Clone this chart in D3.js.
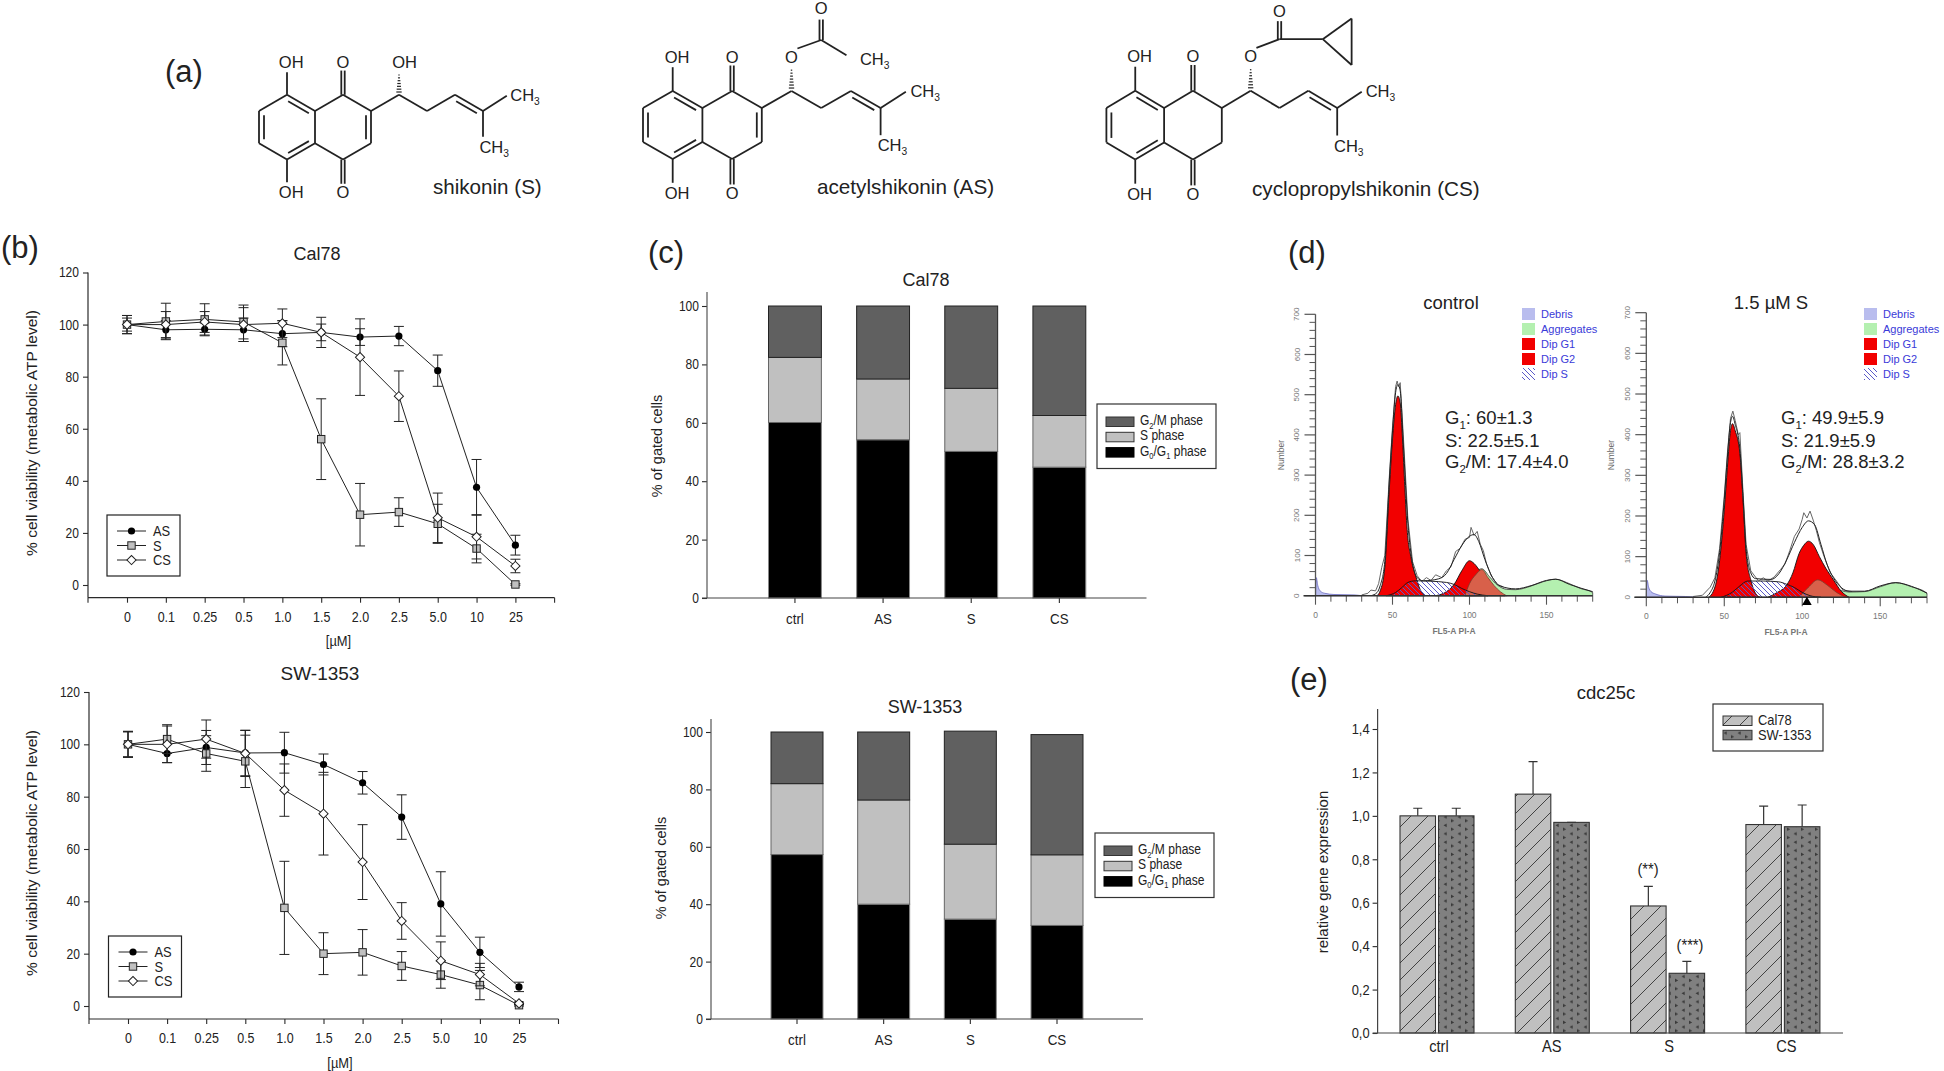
<!DOCTYPE html>
<html>
<head>
<meta charset="utf-8">
<script src="https://cdn.jsdelivr.net/npm/d3@7"></script>
<style>
body { margin: 0; background: #fff; }
text { font-family: "Liberation Sans", Arial, sans-serif; fill: #222; }
</style>
</head>
<body>
<div id="fig"></div>
<script>
// panel b
const doses = ["0", "0.1", "0.25", "0.5", "1.0", "1.5", "2.0", "2.5", "5.0", "10", "25"];
const calAS = [100, 98, 98.2, 98, 96.5, 97, 95.2, 95.6, 82.3, 37.5, 15.3];
const calASerr = [3.5, 3.5, 2.5, 4.5, 5, 3.2, 3.2, 3.7, 6, 10.7, 3.8];
const calS = [100, 101.2, 102, 101, 93, 56, 27, 28, 23.5, 14, 0.2];
const calSerr = [2.5, 7, 6, 6.5, 8.5, 15.5, 12, 5.5, 7.5, 5.5, 0.3];
const calCS = [100, 100, 101, 100, 100.5, 97, 87.5, 72.5, 25.8, 18.5, 7.3];
const calCSerr = [3.5, 5, 4, 6.5, 5.5, 5.8, 14.7, 9.7, 9.5, 8.5, 2.6];
const swAS = [100, 96.5, 98.8, 96.7, 96.8, 92.3, 85.3, 72.2, 39, 20.5, 7.3];
const swASerr = [4.8, 3.5, 6.5, 8.7, 7.8, 4, 4.3, 8.5, 12.3, 5.8, 1.8];
const swS = [100, 102, 96.5, 93.5, 37.5, 20, 20.5, 15.3, 12, 8, 0.3];
const swSerr = [4.8, 5.5, 6.8, 10, 17.8, 8, 8.7, 5.5, 5.2, 5.6, 0.3];
const swCS = [100, 100, 102, 96.5, 82.5, 73.5, 55, 32.5, 17.3, 12, 1];
const swCSerr = [5, 7, 7.3, 8.8, 10, 15.8, 14.3, 7, 7.2, 4.3, 0.5];
const viabTicks = [0, 20, 40, 60, 80, 100, 120];

// panel c
const treatments = ["ctrl", "AS", "S", "CS"];
const pctTicks = [0, 20, 40, 60, 80, 100];
const calG0 = [60.1, 54.2, 50.2, 44.8];
const calSph = [22.3, 20.8, 21.6, 17.7];
const calG2 = [17.6, 25, 28.2, 37.5];
const swG0 = [57.3, 40, 34.8, 32.6];
const swSph = [24.7, 36.3, 26.1, 24.6];
const swG2 = [18, 23.7, 39.4, 41.9];

// panel d, [channel, count]
const ctlDebris = [[0, 0], [0.5, 45], [1.5, 25], [3, 12], [6, 6], [12, 3], [25, 2], [30, 0]];
const ctlAggr = [[97, 0], [100, 30], [108, 67], [113, 47], [118, 27], [124, 16], [130, 15], [140, 24], [148, 35], [156, 41], [163, 33], [172, 18], [180, 8], [180, 0]];
const ctlG1 = [[40, 0], [42, 12], [45, 70], [48, 270], [50, 390], [52, 475], [53.5, 497], [55, 480], [56.5, 390], [58, 270], [59.5, 165], [62, 95], [65, 50], [68, 15], [71, 0]];
const ctlG2 = [[78, 0], [85, 10], [90, 28], [95, 62], [100, 87], [103, 80], [107, 60], [112, 30], [118, 8], [123, 0]];
const ctlOver = [[97, 0], [100, 30], [104, 52], [108, 65], [112, 45], [116, 25], [120, 10], [124, 0]];
const ctlSph = [[46, 0], [52, 8], [56, 20], [60, 33], [65, 37], [75, 36], [85, 33], [90, 28], [95, 18], [100, 10], [105, 4], [112, 0]];
const ctlFit = [[36, 0], [40, 8], [42, 25], [45, 85], [48, 290], [50, 410], [52, 505], [53.5, 525], [55, 510], [57, 380], [60, 180], [63, 80], [66, 45], [70, 37], [80, 42], [85, 55], [90, 90], [95, 125], [100, 148], [103, 152], [106, 135], [110, 90], [115, 45], [120, 24], [130, 17], [140, 25], [150, 38], [156, 41], [165, 28], [180, 10]];
const ctlRaw = [[30, 2], [34, 6], [36, 14], [39, 12], [41, 30], [43, 70], [45, 100], [48, 300], [50, 420], [52, 520], [53, 534], [54, 520], [55, 530], [57, 400], [60, 190], [63, 85], [66, 50], [69, 35], [72, 45], [75, 38], [78, 52], [82, 45], [85, 62], [88, 72], [91, 110], [94, 118], [97, 140], [100, 145], [101, 170], [103, 150], [105, 160], [107, 128], [109, 112], [111, 80], [114, 50], [118, 28], [122, 22]];
const dosDebris = [[0, 0], [0.5, 42], [1.5, 25], [3, 14], [6, 8], [12, 3], [25, 2], [32, 0]];
const dosAggr = [[100, 0], [110, 20], [120, 20], [130, 13], [140, 14], [150, 26], [160, 36], [170, 26], [180, 10], [180, 0]];
const dosG1 = [[40, 0], [43, 15], [45, 40], [47, 90], [50, 215], [52, 320], [54, 410], [55.3, 427], [57, 410], [60, 354], [62, 240], [64, 108], [67, 43], [70, 10], [73, 0]];
const dosG2 = [[78, 0], [84, 12], [90, 30], [94, 60], [98, 108], [101, 128], [104, 138], [107, 130], [111, 100], [115, 72], [120, 43], [125, 15], [130, 0]];
const dosOver = [[98, 0], [104, 25], [110, 43], [116, 30], [122, 12], [128, 0]];
const dosSph = [[48, 0], [55, 12], [60, 28], [65, 40], [75, 40], [85, 38], [90, 32], [95, 24], [100, 12], [105, 4], [112, 0]];
const dosFit = [[38, 0], [41, 12], [44, 40], [47, 110], [50, 240], [52, 345], [54, 430], [55.3, 445], [57, 425], [60, 365], [62, 250], [64, 120], [67, 60], [70, 46], [80, 44], [85, 58], [90, 92], [95, 135], [100, 172], [104, 188], [108, 178], [112, 130], [116, 80], [120, 48], [125, 24], [130, 15], [140, 15], [150, 28], [160, 36], [170, 27], [180, 10]];
const dosRaw = [[30, 2], [36, 5], [41, 25], [44, 48], [47, 120], [50, 250], [52, 355], [54, 440], [55.5, 458], [57, 435], [59, 400], [60, 405], [62, 260], [64, 130], [67, 65], [70, 50], [72, 40], [75, 48], [78, 40], [82, 50], [86, 68], [89, 82], [92, 115], [95, 150], [98, 168], [100, 192], [101, 208], [103, 195], [105, 212], [107, 190], [109, 165], [111, 135], [114, 100], [118, 60], [122, 40], [126, 18], [132, 14]];
const phaseLegend = ["Debris", "Aggregates", "Dip G1", "Dip G2", "Dip S"];
const countTicks = [0, 100, 200, 300, 400, 500, 600, 700];
const countMinor = [20, 40, 60, 80, 120, 140, 160, 180, 220, 240, 260, 280, 320, 340, 360, 380, 420, 440, 460, 480, 520, 540, 560, 580, 620, 640, 660, 680];
const channelTicks = [0, 50, 100, 150];
const channelMinor = [10, 20, 30, 40, 60, 70, 80, 90, 110, 120, 130, 140, 160, 170, 180];

// panel e
const geneTicks = [0, 0.2, 0.4, 0.6, 0.8, 1, 1.2, 1.4];
const geneCal = [1, 1.1, 0.585, 0.96];
const geneCalTop = [1.035, 1.25, 0.675, 1.045];
const geneSw = [1, 0.97, 0.275, 0.95];
const geneSwTop = [1.035, 0.97, 0.33, 1.05];

// panel a, bonds on a hexagon lattice [i1, j1, i2, j2, kind, ci, cj]
// kind: 1 single, 2 inner double (towards ci,cj), 3 C=O, 4 hashed
const ringBonds = [[0, 0, 1, -1, 1], [1, -1, 2, 0, 2, 1, 1], [2, 0, 2, 2, 1], [2, 2, 1, 3, 2, 1, 1], [1, 3, 0, 2, 1], [0, 2, 0, 0, 2, 1, 1],
  [2, 0, 3, -1, 1], [3, -1, 4, 0, 1], [4, 2, 3, 3, 1], [3, 3, 2, 2, 1],
  [1, -1, 1, -2.4, 1], [1, 3, 1, 4.4, 1], [3, -1, 3, -2.5, 3], [3, 3, 3, 4.5, 3]];
const chainBonds = [[4, 0, 5, -1, 1], [5, -1, 6, 0, 1], [6, 0, 7, -1, 1], [7, -1, 8, 0, 2, 7, 1], [8, 0, 8.85, -0.95, 1], [8, 0, 8, 1.6, 1]];
const quinoneBond = [[4, 0, 4, 2, 2, 3, 1]];
const satBond = [[4, 0, 4, 2, 1]];
const shikoninBonds = [[5, -1, 5, -2.4, 4]];
const acetylBonds = [[5, -1, 5, -2.4, 4], [5.2, -3.5, 6, -4, 1], [6, -4, 6, -5.2, 3], [6, -4, 6.85, -3.1, 1]];
const cycloBonds = [[5, -1, 5, -2.4, 4], [5.2, -3.5, 6, -4, 1], [6, -4, 6, -5.05, 3], [6, -4, 7.5, -4, 1], [7.5, -4, 8.5, -5.2, 1], [8.5, -5.2, 8.5, -2.5, 1], [8.5, -2.5, 7.5, -4, 1]];
const ringLabels = [[1.15, -3, "OH"], [3, -3, "O"], [1.15, 5, "OH"], [3, 5, "O"], [9.5, -1, "CH|3"], [8.4, 2.2, "CH|3"]];

const width = 1944, height = 1071;
const svg = d3.select("#fig").append("svg").attr("width", width).attr("height", height);
const defs = svg.append("defs");
const ink = "#2a2a2a";

// patterns
const hatch = defs.append("pattern").attr("id", "hatch").attr("patternUnits", "userSpaceOnUse").attr("width", 17).attr("height", 17);
hatch.append("rect").attr("width", 17).attr("height", 17).attr("fill", "#c0c0c0");
hatch.append("path").attr("d", "M-1,18 L18,-1 M-9,9 L9,-9 M8,26 L26,8").attr("stroke", "#333").attr("stroke-width", 0.9);
const dots = defs.append("pattern").attr("id", "dots").attr("patternUnits", "userSpaceOnUse").attr("width", 14).attr("height", 8.4);
dots.append("rect").attr("width", 14).attr("height", 8.4).attr("fill", "#808080");
dots.append("path").attr("d", "M1.5,2.2 l3.2,-1.8 v3.6z M9,4.2 l3.2,1.8 l-3.2,1.8z").attr("fill", "#3a3a3a");
const shatch = defs.append("pattern").attr("id", "shatch").attr("patternUnits", "userSpaceOnUse").attr("width", 5).attr("height", 5);
shatch.append("path").attr("d", "M-1,-1 L6,6 M-1,4 L1,6 M4,-1 L6,1").attr("stroke", "#5a5ac8").attr("stroke-width", 1);

function addText(x, y, str, size, opts) {
  opts = opts || {};
  const t = svg.append("text").attr("x", x).attr("y", y).attr("font-size", size)
    .attr("text-anchor", opts.anchor || "start").attr("class", opts.cls || null);
  if (opts.fill) t.style("fill", opts.fill);
  if (opts.weight) t.attr("font-weight", opts.weight);
  if (opts.rotate) t.attr("transform", "rotate(-90," + x + "," + y + ")");
  // odd parts are subscripts
  str.split("|").forEach(function(part, i) {
    const s = t.append("tspan").text(part);
    if (i % 2 == 1) {
      s.attr("font-size", size * 0.62).attr("dy", size * 0.25);
    } else if (i > 0) {
      s.attr("dy", -size * 0.25);
    }
  });
  return t;
}

function styleAxis(g, size) {
  g.select(".domain").remove();
  g.selectAll("line").attr("stroke", ink).attr("stroke-width", 1.1);
  g.selectAll("text").attr("font-size", size).attr("class", "nar");
}

function rule(x1, y1, x2, y2, w, c) {
  return svg.append("line").attr("x1", x1).attr("y1", y1).attr("x2", x2).attr("y2", y2)
    .attr("stroke", c || ink).attr("stroke-width", w || 1.2);
}

function marker(g, kind, x, y) {
  if (kind == "AS") {
    g.append("circle").attr("cx", x).attr("cy", y).attr("r", 3.6).attr("fill", "#000");
  } else if (kind == "S") {
    g.append("rect").attr("x", x - 3.7).attr("y", y - 3.7).attr("width", 7.4).attr("height", 7.4)
      .attr("fill", "#c0c0c0").attr("stroke", "#222").attr("stroke-width", 1);
  } else {
    g.append("path").attr("d", d3.symbol(d3.symbolSquare, 42)())
      .attr("transform", "translate(" + x + "," + y + ") rotate(45)")
      .attr("fill", "#fff").attr("stroke", "#222").attr("stroke-width", 1);
  }
}

function viability(opt, series) {
  const x = d3.scalePoint().domain(doses).range([opt.x0, opt.x1]);
  const y = d3.scaleLinear().domain([0, 120]).range([opt.y0, opt.y120]);
  svg.append("g").attr("transform", "translate(" + opt.left + ",0)")
    .call(d3.axisLeft(y).tickValues(viabTicks).tickSize(5).tickPadding(4))
    .call(styleAxis, 14);
  svg.append("g").attr("transform", "translate(0," + opt.bottom + ")")
    .call(d3.axisBottom(x).tickSize(5).tickPadding(9))
    .call(styleAxis, 14.5);
  rule(opt.left, opt.y120, opt.left, opt.bottom);
  rule(opt.left, opt.bottom, opt.right, opt.bottom);
  rule(opt.left, opt.bottom, opt.left, opt.bottom + 5, 1.1);
  rule(opt.right, opt.bottom, opt.right, opt.bottom + 5, 1.1);
  addText(opt.titleX, opt.titleY, opt.title, opt.titleSize, {anchor: "middle"});
  addText(opt.unitX, opt.unitY, "[µM]", 15, {anchor: "middle", cls: "nar"});
  addText(37, opt.labelY, "% cell viability (metabolic ATP level)", 15.5, {anchor: "middle", rotate: true});

  const line = d3.line().x(function(d, i) { return x(doses[i]); }).y(function(d) { return y(d); });
  series.forEach(function(s) {
    const g = svg.append("g");
    s.vals.forEach(function(v, i) {
      const px = x(doses[i]), hi = y(v + s.err[i]), lo = y(v - s.err[i]);
      g.append("path").attr("d", "M" + px + "," + hi + "V" + lo + "M" + (px - 5) + "," + hi + "H" + (px + 5) + "M" + (px - 5) + "," + lo + "H" + (px + 5))
        .attr("stroke", "#222").attr("stroke-width", 1).attr("fill", "none");
    });
    g.append("path").attr("d", line(s.vals)).attr("fill", "none").attr("stroke", "#222").attr("stroke-width", 1);
    s.vals.forEach(function(v, i) { marker(g, s.kind, x(doses[i]), y(v)); });
  });

  // legend
  svg.append("rect").attr("x", opt.legX).attr("y", opt.legY).attr("width", 73).attr("height", 61)
    .attr("fill", "#fff").attr("stroke", "#222").attr("stroke-width", 1.2);
  series.forEach(function(s, i) {
    const ly = opt.legY + 16 + i * 14.5;
    rule(opt.legX + 10, ly, opt.legX + 39, ly, 1, "#222");
    marker(svg, s.kind, opt.legX + 24.5, ly);
    addText(opt.legX + 46, ly + 5, s.kind, 15, {cls: "nar"});
  });
}

viability({x0: 127, x1: 515.4, left: 88, right: 554.6, y0: 585, y120: 272.5, bottom: 597.7,
  title: "Cal78", titleX: 317, titleY: 260, titleSize: 18, unitX: 338.5, unitY: 646, labelY: 433, legX: 107, legY: 515},
  [{kind: "AS", vals: calAS, err: calASerr}, {kind: "S", vals: calS, err: calSerr}, {kind: "CS", vals: calCS, err: calCSerr}]);
viability({x0: 128, x1: 519, left: 89, right: 558.5, y0: 1006, y120: 692, bottom: 1019,
  title: "SW-1353", titleX: 320, titleY: 680, titleSize: 19, unitX: 340, unitY: 1068, labelY: 853, legX: 108.5, legY: 936},
  [{kind: "AS", vals: swAS, err: swASerr}, {kind: "S", vals: swS, err: swSerr}, {kind: "CS", vals: swCS, err: swCSerr}]);

function stacked(opt, g0, sph, g2) {
  const rows = treatments.map(function(t, i) { return {t: t, g0: g0[i], s: sph[i], g2: g2[i]}; });
  const stack = d3.stack().keys(["g0", "s", "g2"])(rows);
  const x = d3.scaleBand().domain(treatments).range([opt.barL, opt.barR]).paddingInner(0.4);
  const y = d3.scaleLinear().domain([0, 100]).range([opt.y0, opt.y100]);
  const fills = ["#000", "#c0c0c0", "#606060"];
  const edges = ["#888", "#666", "#222"];
  stack.forEach(function(layer, k) {
    svg.append("g").selectAll("rect").data(layer).enter().append("rect")
      .attr("x", function(d) { return x(d.data.t); })
      .attr("y", function(d) { return y(d[1]); })
      .attr("width", x.bandwidth())
      .attr("height", function(d) { return y(d[0]) - y(d[1]); })
      .attr("fill", fills[k]).attr("stroke", edges[k]).attr("stroke-width", 1);
  });
  svg.append("g").attr("transform", "translate(" + opt.left + ",0)")
    .call(d3.axisLeft(y).tickValues(pctTicks).tickSize(5).tickPadding(3))
    .call(styleAxis, 14);
  svg.append("g").attr("transform", "translate(0," + opt.y0 + ")")
    .call(d3.axisBottom(x).tickSize(5).tickPadding(10))
    .call(styleAxis, 15.5);
  rule(opt.left, opt.top, opt.left, opt.y0, 1.2, "#555");
  rule(opt.axL, opt.y0, opt.axR, opt.y0, 1.2, "#444");
  addText(opt.titleX, opt.titleY, opt.title, 18, {anchor: "middle"});
  addText(opt.labelX, opt.labelY, "% of gated cells", 14.5, {anchor: "middle", rotate: true});
  svg.append("rect").attr("x", opt.legX).attr("y", opt.legY).attr("width", 119).attr("height", 64.5)
    .attr("fill", "#fff").attr("stroke", "#333").attr("stroke-width", 1.2);
  const names = ["G|2|/M phase", "S phase", "G|0|/G|1| phase"];
  [2, 1, 0].forEach(function(k, i) {
    const ly = opt.legY + 13 + i * 15.3;
    svg.append("rect").attr("x", opt.legX + 9).attr("y", ly).attr("width", 28).attr("height", 9.5)
      .attr("fill", fills[k]).attr("stroke", k == 0 ? "#000" : "#333").attr("stroke-width", 1);
    addText(opt.legX + 43, ly + 8, names[i], 14, {cls: "nar"});
  });
}

stacked({barL: 768.5, barR: 1085.8, y0: 598, y100: 306, left: 707, top: 292, axL: 702, axR: 1146.5,
  title: "Cal78", titleX: 926, titleY: 286, labelX: 662, labelY: 446, legX: 1097, legY: 404}, calG0, calSph, calG2);
stacked({barL: 771, barR: 1083, y0: 1019, y100: 732, left: 711, top: 719, axL: 706, axR: 1143,
  title: "SW-1353", titleX: 925, titleY: 713, labelX: 666, labelY: 868, legX: 1095, legY: 833}, swG0, swSph, swG2);

function histogram(opt, h) {
  const x = d3.scaleLinear().domain([0, 180]).range([opt.x0, opt.x180]);
  const y = d3.scaleLinear().domain([0, 700]).range([opt.y0, opt.y700]);
  const area = d3.area().x(function(d) { return x(d[0]); }).y0(y(0)).y1(function(d) { return y(d[1]); }).curve(d3.curveMonotoneX);
  const line = d3.line().x(function(d) { return x(d[0]); }).y(function(d) { return y(d[1]); }).curve(d3.curveMonotoneX);
  function fill(data, color, edge) {
    svg.append("path").attr("d", area(data)).attr("fill", color)
      .attr("stroke", edge || "#111").attr("stroke-width", edge ? 0.8 : 0.9);
  }
  fill(h.debris, "#b9bdee", "#6a6ac0");
  fill(h.aggr, "#b4f0b0", "#333");
  fill(h.g1, "#f20000");
  fill(h.g2, "#f20000");
  fill(h.over, "#d8604a", "#7a3a2a");
  svg.append("path").attr("d", area(h.sph)).attr("fill", "url(#shatch)").attr("stroke", "#111").attr("stroke-width", 0.9);
  svg.append("path").attr("d", d3.line().x(function(d) { return x(d[0]); }).y(function(d) { return y(d[1]); })(h.raw))
    .attr("fill", "none").attr("stroke", "#666").attr("stroke-width", 1);
  svg.append("path").attr("d", line(h.fit)).attr("fill", "none").attr("stroke", "#222").attr("stroke-width", 1);

  const grey = "#555";
  const yAxis = svg.append("g").attr("transform", "translate(" + opt.x0 + ",0)");
  yAxis.selectAll("line.maj").data(countTicks).enter().append("line").attr("class", "maj")
    .attr("x1", -11).attr("x2", 0).attr("y1", y).attr("y2", y).attr("stroke", grey).attr("stroke-width", 1.2);
  yAxis.selectAll("line.min").data(countMinor).enter().append("line").attr("class", "min")
    .attr("x1", -6).attr("x2", 0).attr("y1", y).attr("y2", y).attr("stroke", grey).attr("stroke-width", 1);
  rule(opt.x0, y(0), opt.x0, y(700), 1.3, grey);
  countTicks.forEach(function(v) {
    addText(opt.x0 - 16, y(v), String(v), 8, {anchor: "middle", rotate: true, fill: "#777"});
  });
  channelTicks.forEach(function(v) {
    rule(x(v), y(0), x(v), y(0) + 9, 1.1, grey);
    addText(x(v), y(0) + 22, String(v), 8.5, {anchor: "middle", fill: "#777"});
  });
  channelMinor.forEach(function(v) { rule(x(v), y(0), x(v), y(0) + 6, 1, grey); });
  rule(opt.x0 - 12, y(0), opt.x180, y(0), 1.5, "#333");
  addText(x(0) - 32, y(350), "Number", 8.5, {anchor: "middle", rotate: true, fill: "#666"});
  addText(opt.xLabel, y(0) + 38, "FL5-A PI-A", 8.5, {anchor: "middle", weight: "bold", fill: "#777"});

  addText(opt.titleX, 309, h.title, 18.5, {anchor: "middle"});
  h.stats.forEach(function(s, i) { addText(opt.statX, [424, 447, 468][i], s, 18.5); });
  const swatches = ["#b9bdee", "#b4f0b0", "#f20000", "#f20000", "url(#shatch)"];
  phaseLegend.forEach(function(n, i) {
    const ly = 314 + i * 15;
    svg.append("rect").attr("x", opt.legX).attr("y", ly - 6).attr("width", 13).attr("height", 12).attr("fill", swatches[i]);
    addText(opt.legX + 19, ly + 3.5, n, 11, {fill: "#3a3ad8"});
  });
  if (h.arrow) {
    svg.append("path").attr("d", d3.symbol(d3.symbolTriangle, 40)())
      .attr("transform", "translate(" + x(h.arrow) + "," + (y(0) + 5) + ")").attr("fill", "#000");
  }
}

histogram({x0: 1315.5, x180: 1592.7, y0: 595.7, y700: 314.3, titleX: 1451, statX: 1445, legX: 1522, xLabel: 1454},
  {debris: ctlDebris, aggr: ctlAggr, g1: ctlG1, g2: ctlG2, over: ctlOver, sph: ctlSph, fit: ctlFit, raw: ctlRaw,
   title: "control", stats: ["G|1|: 60±1.3", "S: 22.5±5.1", "G|2|/M: 17.4±4.0"]});
histogram({x0: 1646.3, x180: 1927, y0: 597.3, y700: 312.7, titleX: 1771, statX: 1781, legX: 1864, xLabel: 1786},
  {debris: dosDebris, aggr: dosAggr, g1: dosG1, g2: dosG2, over: dosOver, sph: dosSph, fit: dosFit, raw: dosRaw, arrow: 103,
   title: "1.5 µM S", stats: ["G|1|: 49.9±5.9", "S: 21.9±5.9", "G|2|/M: 28.8±3.2"]});

// panel e
(function() {
  const groupStep = 115.3;
  const x = d3.scaleBand().domain(treatments).range([1400, 1400 + groupStep * 4]);
  const y = d3.scaleLinear().domain([0, 1.4]).range([1033, 729]);
  const barW = 35.5, gap = 3;
  [[geneCal, geneCalTop, "url(#hatch)", 0], [geneSw, geneSwTop, "url(#dots)", 1]].forEach(function(s) {
    const g = svg.append("g");
    g.selectAll("path").data(s[0]).enter().append("path")
      .attr("d", function(d, i) {
        const cx = x(treatments[i]) + s[3] * (barW + gap) + barW / 2;
        return "M" + cx + "," + y(s[1][i]) + "V" + y(d) + "M" + (cx - 4.5) + "," + y(s[1][i]) + "H" + (cx + 4.5);
      }).attr("stroke", "#333").attr("stroke-width", 1.2);
    g.selectAll("rect").data(s[0]).enter().append("rect")
      .attr("x", function(d, i) { return x(treatments[i]) + s[3] * (barW + gap); })
      .attr("y", y).attr("width", barW)
      .attr("height", function(d) { return y(0) - y(d); })
      .attr("fill", s[2]).attr("stroke", "#333").attr("stroke-width", 1.1);
  });
  svg.append("g").attr("transform", "translate(1377.6,0)")
    .call(d3.axisLeft(y).tickValues(geneTicks).tickSize(5).tickPadding(3).tickFormat(function(d) { return d.toFixed(1).replace(".", ","); }))
    .call(styleAxis, 15);
  rule(1377.6, 709, 1377.6, 1033, 1.2, "#444");
  rule(1372.6, 1033, 1843, 1033, 1.2, "#444");
  treatments.forEach(function(t, i) {
    addText(x(t) + 37 + [2, -0.5, 1.5, 3.5][i], 1052, t, 17, {anchor: "middle", cls: "nar"});
  });
  addText(1606, 699, "cdc25c", 18.5, {anchor: "middle"});
  addText(1328, 872, "relative gene expression", 15, {anchor: "middle", rotate: true});
  addText(1648, 875, "(**)", 17, {anchor: "middle", cls: "nar"});
  addText(1690, 951, "(***)", 17, {anchor: "middle", cls: "nar"});
  svg.append("rect").attr("x", 1713).attr("y", 704).attr("width", 110).attr("height", 47)
    .attr("fill", "#fff").attr("stroke", "#333").attr("stroke-width", 1.2);
  [["Cal78", "url(#hatch)"], ["SW-1353", "url(#dots)"]].forEach(function(d, i) {
    svg.append("rect").attr("x", 1723).attr("y", 716 + i * 14.3).attr("width", 29).attr("height", 9.5)
      .attr("fill", d[1]).attr("stroke", "#333");
    addText(1758, 725 + i * 14.6, d[0], 15, {cls: "nar"});
  });
})();

// panel a
function molecule(opt, bonds, labels) {
  const x = d3.scaleLinear().domain([0, 1]).range([opt.x, opt.x + opt.sx]);
  const y = d3.scaleLinear().domain([0, 1]).range([opt.y, opt.y + opt.sy]);
  const g = svg.append("g").attr("stroke", "#222").attr("stroke-width", 1.8).attr("fill", "none");
  bonds.forEach(function(b) {
    const ax = x(b[0]), ay = y(b[1]), bx = x(b[2]), by = y(b[3]);
    const len = Math.hypot(bx - ax, by - ay), nx = -(by - ay) / len, ny = (bx - ax) / len;
    if (b[4] == 4) {
      d3.range(1, 8).forEach(function(k) {
        const t = k / 8, hw = 0.4 + (1 - t) * 2.6;
        const px = ax + (bx - ax) * t, py = ay + (by - ay) * t;
        g.append("line").attr("x1", px - nx * hw).attr("y1", py - ny * hw).attr("x2", px + nx * hw).attr("y2", py + ny * hw).attr("stroke-width", 1.2);
      });
      return;
    }
    if (b[4] == 3) {
      [-1.7, 1.7].forEach(function(o) {
        g.append("line").attr("x1", ax + nx * o).attr("y1", ay + ny * o).attr("x2", bx + nx * o).attr("y2", by + ny * o);
      });
      return;
    }
    g.append("line").attr("x1", ax).attr("y1", ay).attr("x2", bx).attr("y2", by);
    if (b[4] == 2) {
      const cx = x(b[5]), cy = y(b[6]);
      const side = ((cx - ax) * nx + (cy - ay) * ny) > 0 ? 1 : -1;
      const o = 5 * side, t1 = 0.13, t2 = 0.87;
      g.append("line")
        .attr("x1", ax + (bx - ax) * t1 + nx * o).attr("y1", ay + (by - ay) * t1 + ny * o)
        .attr("x2", ax + (bx - ax) * t2 + nx * o).attr("y2", ay + (by - ay) * t2 + ny * o);
    }
  });
  labels.forEach(function(l) {
    addText(x(l[0]), y(l[1]) + opt.font * 0.36, l[2], opt.font, {anchor: "middle"});
  });
}

molecule({x: 259, y: 111, sx: 28, sy: 16.17, font: 16.5}, ringBonds.concat(quinoneBond, chainBonds, shikoninBonds), ringLabels.concat([[5.2, -3, "OH"]]));
molecule({x: 643, y: 108, sx: 29.7, sy: 17, font: 16.5}, ringBonds.concat(quinoneBond, chainBonds, acetylBonds), ringLabels.concat([[5, -3, "O"], [6, -5.9, "O"], [7.8, -2.9, "CH|3"]]));
molecule({x: 1106.4, y: 108, sx: 28.85, sy: 17.2, font: 16.5}, ringBonds.concat(satBond, chainBonds, cycloBonds), ringLabels.concat([[5, -3, "O"], [6, -5.65, "O"]]));

addText(433, 194, "shikonin (S)", 20.6);
addText(817, 194, "acetylshikonin (AS)", 20.7);
addText(1252, 196, "cyclopropylshikonin (CS)", 20.7);
addText(165, 82, "(a)", 31);
addText(1, 258, "(b)", 31);
addText(648, 263, "(c)", 31);
addText(1288, 263, "(d)", 31);
addText(1290, 690, "(e)", 31);

// the plot package's labels are a condensed face, squeeze them to match
svg.selectAll(".nar").each(function() {
  const t = d3.select(this);
  t.attr("textLength", this.getComputedTextLength() * 0.86).attr("lengthAdjust", "spacingAndGlyphs");
});
</script>
</body>
</html>
